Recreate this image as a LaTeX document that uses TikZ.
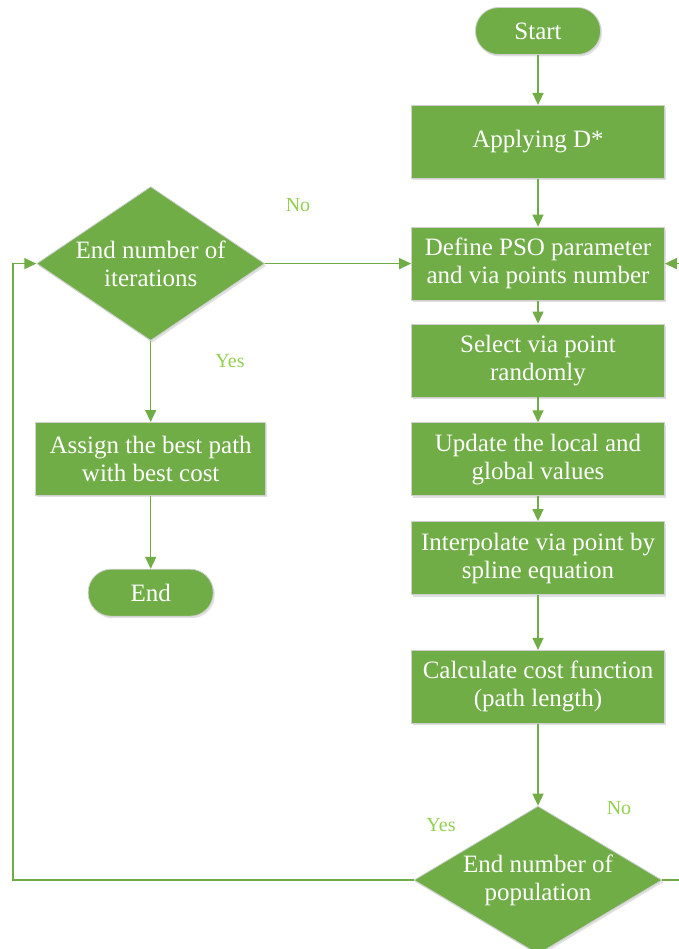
\documentclass[tikz,border=0pt]{standalone}
\usepackage{fontspec}
\setmainfont{Liberation Serif}
\usetikzlibrary{arrows.meta,positioning,shapes.geometric,shadows}
\definecolor{FlowGreen}{HTML}{70AD47}
\definecolor{LabelGreen}{HTML}{92D050}
\definecolor{EdgeGray}{HTML}{CFCFCF}
\tikzset{
  procbox/.style={draw=EdgeGray, fill=FlowGreen, text=white, align=center, line width=0.8pt,
                  font=\fontsize{25}{28}\selectfont, minimum width=253pt, minimum height=73pt, inner sep=2pt,
                  drop shadow={shadow xshift=1.5pt, shadow yshift=-2pt, fill=black, opacity=0.12}},
  termbox/.style={procbox, rounded corners=23pt, minimum width=125pt, minimum height=47pt},
  decbox/.style={procbox, diamond, inner sep=0pt},
  flowarr/.style={-{Triangle[length=12pt,width=11pt]}, line width=1.5pt, FlowGreen},
  branchlbl/.style={text=LabelGreen, font=\fontsize{20}{24}\selectfont, inner sep=1pt}
}
\begin{document}
\begin{tikzpicture}[x=1pt, y=-1pt]
\useasboundingbox (0,0) rectangle (679,949);
% right column
\node[termbox] (start) at (538,31) {Start};
\node[procbox, below=50pt of start] (apply) {Applying D*};
\node[procbox, below=48pt of apply] (define) {Define PSO parameter\\and via points number};
\node[procbox, below=23pt of define] (select) {Select via point\\randomly};
\node[procbox, below=25pt of select] (update) {Update the local and\\global values};
\node[procbox, below=25pt of update] (interp) {Interpolate via point by\\spline equation};
\node[procbox, below=55pt of interp] (cost) {Calculate cost function\\(path length)};
\node[decbox, aspect=1.68, minimum width=248pt, minimum height=148pt, below=82pt of cost] (popdec) {End number of\\population};
% left column
\node[decbox, aspect=1.48, minimum width=228pt, minimum height=154pt, left=146pt of define] (iterdec) {End number of\\iterations};
\node[procbox, minimum width=230pt, below=81pt of iterdec] (assign) {Assign the best path\\with best cost};
\node[termbox, below=73pt of assign] (finish) {End};
% rails for the loops
\coordinate (leftrail) at (13,0);
\coordinate (rightrail) at (681,0);
% connectors
\draw[flowarr] (start) -- (apply);
\draw[flowarr] (apply) -- (define);
\draw[flowarr] (define) -- (select);
\draw[flowarr] (select) -- (update);
\draw[flowarr] (update) -- (interp);
\draw[flowarr] (interp) -- (cost);
\draw[flowarr] (cost) -- (popdec);
\draw[flowarr] (iterdec) -- (define);
\draw[flowarr] (iterdec) -- (assign);
\draw[flowarr] (assign) -- (finish);
\draw[flowarr] (popdec.west) -- (popdec.west -| leftrail) -- (iterdec.west -| leftrail) -- (iterdec.west);
\draw[flowarr] (popdec.east) -- (popdec.east -| rightrail) -- (define.east -| rightrail) -- (define.east);
% branch labels
\node[branchlbl] (noiter) at (298,205) {No};
\node[branchlbl] (yesiter) at (230,361) {Yes};
\node[branchlbl] (nopop) at (619,808) {No};
\node[branchlbl] (yespop) at (441,825) {Yes};
\end{tikzpicture}
\end{document}
